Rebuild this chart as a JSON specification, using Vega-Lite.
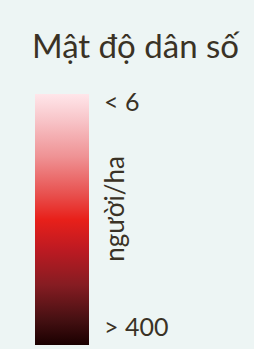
{
  "$schema": "https://vega.github.io/schema/vega-lite/v6.json",
  "width": 219,
  "height": 251,
  "autosize": {"type": "none"},
  "padding": {"left": 35, "top": 94, "right": 0, "bottom": 4},
  "background": "#edf5f4",
  "title": {
    "text": "Mật độ dân số",
    "font": "Lato",
    "fontSize": 33,
    "fontWeight": "normal",
    "color": "#3a3225",
    "anchor": "middle",
    "baseline": "alphabetic",
    "dx": -9,
    "offset": 0
  },
  "config": {"view": {"stroke": null}},
  "layer": [
    {
      "data": {"values": [{"lo": 6, "hi": 400}]},
      "mark": {
        "type": "rect",
        "x": 0,
        "x2": 54,
        "color": {
          "gradient": "linear",
          "x1": 0, "y1": 0, "x2": 0, "y2": 1,
          "stops": [
            {"offset": 0, "color": "#ffe6ea"},
            {"offset": 0.1, "color": "#f8c6ca"},
            {"offset": 0.25, "color": "#ef9294"},
            {"offset": 0.4, "color": "#e8504e"},
            {"offset": 0.5, "color": "#e8201a"},
            {"offset": 0.62, "color": "#bd1a22"},
            {"offset": 0.76, "color": "#861c22"},
            {"offset": 0.9, "color": "#451012"},
            {"offset": 1, "color": "#1a0000"}
          ]
        }
      },
      "encoding": {
        "y": {"field": "lo", "type": "quantitative", "scale": {"type": "log", "domain": [6, 400], "reverse": true, "nice": false}, "axis": null},
        "y2": {"field": "hi"}
      }
    },
    {
      "data": {"values": [{"v": 6, "label": "< 6"}]},
      "mark": {"type": "text", "x": 69, "align": "left", "baseline": "alphabetic", "dy": 17, "font": "Lato", "fontSize": 25, "color": "#3a3225"},
      "encoding": {
        "y": {"field": "v", "type": "quantitative"},
        "text": {"field": "label"}
      }
    },
    {
      "data": {"values": [{"v": 400, "label": "> 400"}]},
      "mark": {"type": "text", "x": 69, "align": "left", "baseline": "alphabetic", "dy": -9, "font": "Lato", "fontSize": 25, "color": "#3a3225"},
      "encoding": {
        "y": {"field": "v", "type": "quantitative"},
        "text": {"field": "label"}
      }
    },
    {
      "data": {"values": [{"v": 41, "label": "người/ha"}]},
      "mark": {"type": "text", "x": 89, "align": "center", "baseline": "alphabetic", "angle": 270, "font": "Lato", "fontSize": 26, "color": "#3a3225"},
      "encoding": {
        "y": {"field": "v", "type": "quantitative"},
        "text": {"field": "label"}
      }
    }
  ]
}
